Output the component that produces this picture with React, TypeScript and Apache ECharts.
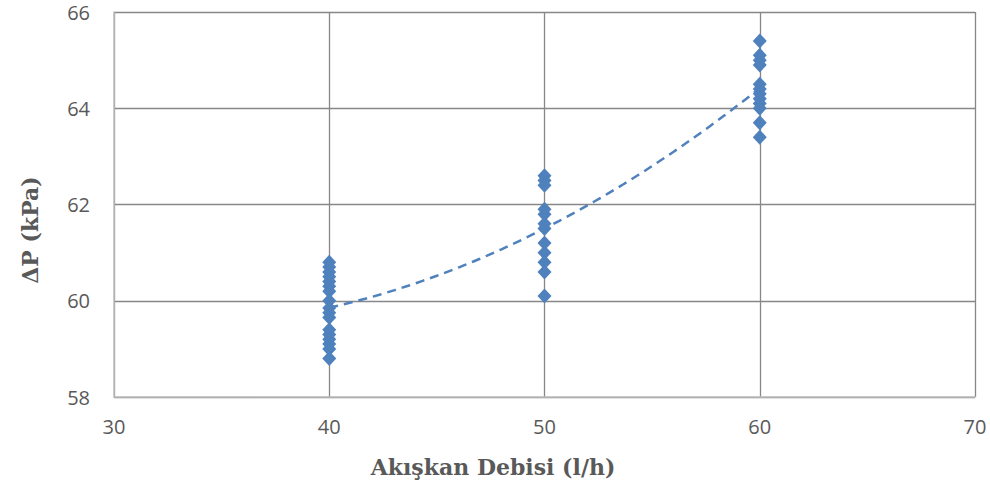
import React, { useEffect, useRef } from "react";
import * as echarts from "echarts";

const flow40: number[] = [60.8, 60.7, 60.6, 60.5, 60.4, 60.3, 60.2, 60.0, 59.85, 59.75, 59.65, 59.4, 59.3, 59.2, 59.1, 59.0, 58.8];
const flow50: number[] = [62.6, 62.5, 62.4, 61.9, 61.8, 61.6, 61.5, 61.2, 61.0, 60.8, 60.6, 60.1];
const flow60: number[] = [65.4, 65.1, 65.0, 64.9, 64.5, 64.4, 64.3, 64.2, 64.1, 64.0, 63.7, 63.4];
const flowRates: number[] = [40, 50, 60];
const xTicks = { min: 30, max: 70, interval: 10 };
const yTicks = { min: 58, max: 66, interval: 2 };
const xTitle = "Akışkan Debisi (l/h)";
const yTitle = "ΔP (kPa)";

function quadFit(pts: number[][]): number[] {
  // least squares y = a + b x + c x^2
  let s0 = 0, s1 = 0, s2 = 0, s3 = 0, s4 = 0, t0 = 0, t1 = 0, t2 = 0;
  for (const [x, y] of pts) {
    s0 += 1; s1 += x; s2 += x * x; s3 += x ** 3; s4 += x ** 4;
    t0 += y; t1 += x * y; t2 += x * x * y;
  }
  const M = [
    [s0, s1, s2, t0],
    [s1, s2, s3, t1],
    [s2, s3, s4, t2],
  ];
  for (let i = 0; i < 3; i++) {
    let p = i;
    for (let r = i + 1; r < 3; r++) if (Math.abs(M[r][i]) > Math.abs(M[p][i])) p = r;
    [M[i], M[p]] = [M[p], M[i]];
    for (let r = 0; r < 3; r++) {
      if (r === i) continue;
      const f = M[r][i] / M[i][i];
      for (let c = i; c < 4; c++) M[r][c] -= f * M[i][c];
    }
  }
  return [M[0][3] / M[0][0], M[1][3] / M[1][1], M[2][3] / M[2][2]];
}

export default function App() {
  const ref = useRef<HTMLDivElement>(null);
  useEffect(() => {
    if (!ref.current) return;
    const chart = echarts.init(ref.current, null, { renderer: "svg" });
    const groups = [flow40, flow50, flow60];
    const pts: number[][] = [];
    groups.forEach((g, i) => g.forEach((v) => pts.push([flowRates[i], v])));
    const [a, b, c] = quadFit(pts);
    const xs0 = flowRates[0];
    const xs1 = flowRates[flowRates.length - 1];
    const trend: number[][] = [];
    const n = 60;
    for (let i = 0; i <= n; i++) {
      const x = xs0 + ((xs1 - xs0) * i) / n;
      trend.push([x, a + b * x + c * x * x]);
    }
    const labelStyle = { color: "#595959", fontSize: 20, fontFamily: "Open Sans" };
    const titleFont = 'bold 22px "DejaVu Serif"';
    chart.setOption({
      animation: false,
      grid: { left: 114, right: 15, top: 12, bottom: 93 },
      graphic: [
        {
          type: "text",
          x: 493,
          y: 467,
          style: { text: xTitle, font: titleFont, fill: "#595959", align: "center", verticalAlign: "middle" },
        },
        {
          type: "text",
          x: 30,
          y: 230,
          rotation: Math.PI / 2,
          style: { text: yTitle, font: titleFont, fill: "#595959", align: "center", verticalAlign: "middle" },
        },
      ],
      xAxis: {
        type: "value",
        min: xTicks.min,
        max: xTicks.max,
        interval: xTicks.interval,
        axisLine: { show: true, onZero: false, lineStyle: { color: "#bfbfbf", width: 1.5 } },
        axisTick: { show: false },
        axisLabel: { ...labelStyle, margin: 19 },
        splitLine: { show: true, lineStyle: { color: "#878787", width: 1.3 } },
      },
      yAxis: {
        type: "value",
        min: yTicks.min,
        max: yTicks.max,
        interval: yTicks.interval,
        axisLine: { show: true, onZero: false, lineStyle: { color: "#bfbfbf", width: 1.5 } },
        axisTick: { show: false },
        axisLabel: { ...labelStyle, margin: 24 },
        splitLine: { show: true, lineStyle: { color: "#878787", width: 1.3 } },
      },
      series: [
        {
          type: "line",
          data: trend,
          showSymbol: false,
          symbol: "none",
          smooth: false,
          z: 1,
          lineStyle: { color: "#4F81BD", width: 2.5, type: [9, 6] },
        },
        {
          type: "scatter",
          data: pts,
          symbol: "diamond",
          symbolSize: [14, 15],
          z: 2,
          itemStyle: { color: "#4F81BD", opacity: 1 },
        },
      ],
    });
    return () => chart.dispose();
  }, []);
  return <div ref={ref} style={{ width: 990, height: 490, position: "absolute", left: 0, top: 0 }} />;
}
